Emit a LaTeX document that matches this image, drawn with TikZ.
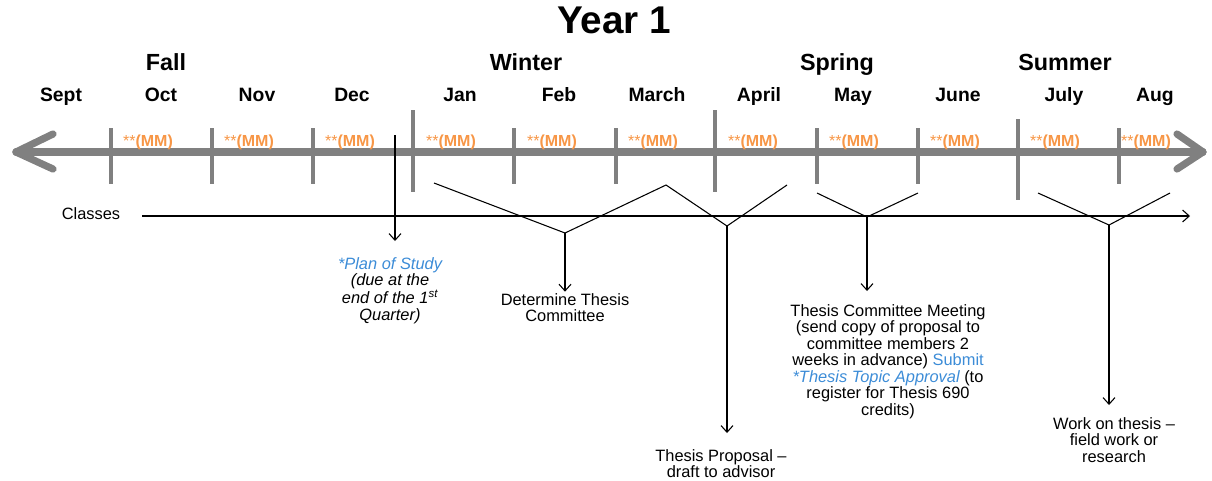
\documentclass[tikz,border=0pt]{standalone}
\usepackage{fontspec}
\setmainfont{Liberation Sans}
\usetikzlibrary{arrows.meta}
\definecolor{axisgray}{RGB}{128,128,128}
\definecolor{mmorange}{RGB}{247,150,70}
\definecolor{linkblue}{RGB}{60,140,215}
\definecolor{thin}{RGB}{60,60,60}
\tikzset{
  axisline/.style={axisgray,line width=5.4pt,line cap=round,line join=round},
  smalltick/.style={axisgray,line width=2.4pt},
  bigtick/.style={axisgray,line width=3.2pt},
  mm/.style={text=mmorange,font=\fontsize{12}{13}\selectfont\bfseries,inner sep=0pt,anchor=base},
  month/.style={font=\fontsize{14.5}{16}\selectfont\bfseries,inner sep=0pt,anchor=base},
  season/.style={font=\fontsize{17.5}{20}\selectfont\bfseries,inner sep=0pt,anchor=base},
  body/.style={font=\fontsize{12.3}{12.4}\selectfont,align=center,inner sep=0pt,anchor=north},
  link/.style={thin,line width=0.8pt},
  linkarrow/.style={thin,line width=0.8pt,-{Straight Barb[length=5pt,width=9pt]}}
}
\begin{document}
\begin{tikzpicture}[x=0.75pt,y=-0.75pt]
\useasboundingbox (0,0) rectangle (1212,480);
% title and seasons
\node[font=\fontsize{29}{32}\selectfont\bfseries,inner sep=0pt,anchor=base] (title) at (614,33) {Year 1};
\node[season] (fall) at (166,70) {Fall};
\node[season] (winter) at (526,70) {Winter};
\node[season] (spring) at (837,70) {Spring};
\node[season] (summer) at (1065,70) {Summer};
% months
\foreach \x/\m/\n in {61/Sept/m1,161/Oct/m2,257/Nov/m3,352/Dec/m4,460/Jan/m5,559/Feb/m6,657/March/m7,759/April/m8,853/May/m9,958/June/m10,1064/July/m11,1155/Aug/m12}
  \node[month] (\n) at (\x,101) {\m};
% axis
\coordinate (axL) at (16,152);
\coordinate (axR) at (1203,152);
\draw[axisline] (axL) -- (axR);
\draw[axisline] (53,134) -- (axL) -- (53,169);
\draw[axisline] (1177,134) -- (axR) -- (1177,169);
% ticks
\foreach \x in {111,212,313,514,616,817,918,1119}
  \draw[smalltick] (\x,128) -- (\x,184);
\draw[bigtick] (413,110) -- (413,192);
\draw[bigtick] (715,110) -- (715,192);
\draw[bigtick] (1018,119) -- (1018,200);
% MM labels
\foreach \x [count=\i] in {148,249,350,451,552,653,753,854,955,1055,1146}
  \node[mm] (mm\i) at (\x,146) {{\mdseries**}(MM)};
% classes
\node[font=\fontsize{12.3}{12.4}\selectfont,inner sep=0pt,anchor=base] (classes) at (91,219) {Classes};
\coordinate (clsA) at (142,216);
\coordinate (clsB) at (1190,216);
\draw[linkarrow] (clsA) -- (clsB);
% plan of study
\node[body,font=\fontsize{12.3}{12.4}\selectfont\itshape] (plan) at (390,257)
  {{\color{linkblue}*Plan of Study}\\(due at the\\end of the 1\textsuperscript{st}\\Quarter)};
\coordinate (planS) at (395,135);
\draw[linkarrow] (planS) -- (395,241);
% winter brackets
\coordinate (w1) at (434,183);
\coordinate (w2) at (565,233);
\coordinate (w3) at (666,185);
\coordinate (w4) at (727,226);
\coordinate (w5) at (787,185);
\draw[link,line join=miter] (w1) -- (w2) -- (w3) -- (w4) -- (w5);
\node[body] (committee) at (565,293) {Determine Thesis\\Committee};
\draw[linkarrow] (w2) -- ([yshift=1pt]committee.north);
\node[body] (proposal) at (721,449) {Thesis Proposal –\\draft to advisor};
\coordinate (propE) at (727,433);
\draw[linkarrow] (w4) -- (propE);
% spring bracket
\coordinate (s1) at (817,193);
\coordinate (s2) at (867,217);
\coordinate (s3) at (918,193);
\draw[link] (s1) -- (s2) -- (s3);
\node[body] (meeting) at (888,304) {Thesis Committee Meeting\\(send copy of proposal to\\committee members 2\\weeks in advance) {\color{linkblue}Submit}\\{\color{linkblue}\itshape *Thesis Topic Approval} (to\\register for Thesis 690\\credits)};
\coordinate (meetE) at (867,291);
\draw[linkarrow] (s2) -- (meetE);
% summer bracket
\coordinate (u1) at (1038,193);
\coordinate (u2) at (1109,225);
\coordinate (u3) at (1170,193);
\draw[link] (u1) -- (u2) -- (u3);
\node[body] (work) at (1114,417) {Work on thesis –\\field work or\\research};
\coordinate (workE) at (1109,405);
\draw[linkarrow] (u2) -- (workE);
\end{tikzpicture}
\end{document}
